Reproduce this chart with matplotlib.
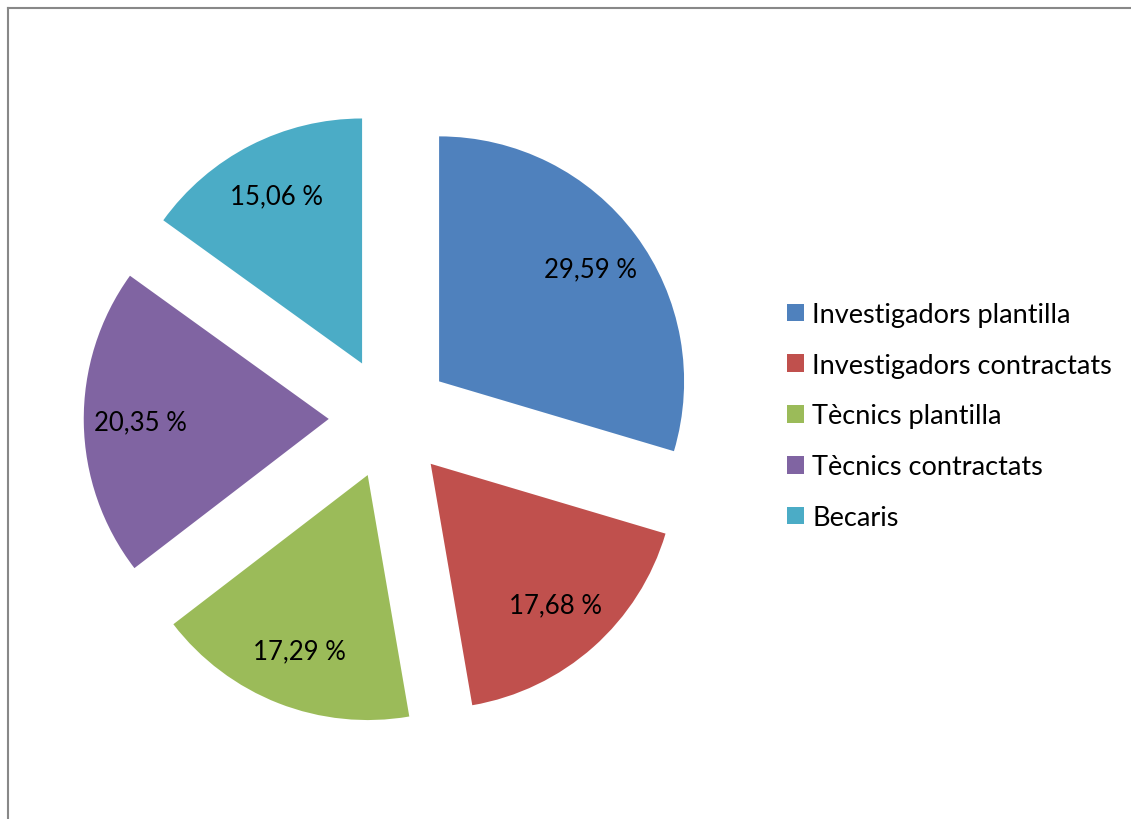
import matplotlib
matplotlib.use("Agg")
import matplotlib.pyplot as plt
from matplotlib.lines import Line2D

categories = ["Investigadors plantilla", "Investigadors contractats", "Tècnics plantilla",
              "Tècnics contractats", "Becaris"]
values = [29.59, 17.68, 17.29, 20.35, 15.06]
colors = ["#4F81BD", "#C0504D", "#9BBB59", "#8064A2", "#4BACC6"]

plt.rcParams['font.family'] = ['Lato', 'DejaVu Sans']

W, H = 1131, 820
fig = plt.figure(figsize=(W / 100, H / 100), dpi=100)

R = 245.0
cx, cy = 390.0, 820 - 419.0
half = 1.6
ax = fig.add_axes([(cx - half * R) / W, (cy - half * R) / H, 2 * half * R / W, 2 * half * R / H])

def fmt(v):
    return f"{v:.2f}".replace(".", ",") + " %"

val_iter = iter(values)
wedges, texts, autotexts = ax.pie(values, colors=colors, startangle=90, counterclock=False,
                                  explode=[0.25] * len(values), autopct=lambda p: fmt(next(val_iter)),
                                  pctdistance=0.77, textprops={'fontsize': 18.5, 'color': 'black'})
ax.set_xlim(-half, half)
ax.set_ylim(-half, half)
ax.set_aspect('equal')
ax.axis('off')

fig.legend(wedges, categories, loc='center left', bbox_to_anchor=(787 / W, 1 - 417 / H),
           frameon=False, fontsize=19.5, handlelength=0.63, handleheight=0.63,
           labelspacing=0.95, handletextpad=0.3, borderpad=0, borderaxespad=0)

fig.add_artist(Line2D([8 / W, 8 / W], [0, 1 - 9 / H], transform=fig.transFigure, color="#888888", lw=1.5))
fig.add_artist(Line2D([8 / W, 1], [1 - 9 / H, 1 - 9 / H], transform=fig.transFigure, color="#888888", lw=1.5))

fig.savefig("out.png", dpi=100)
